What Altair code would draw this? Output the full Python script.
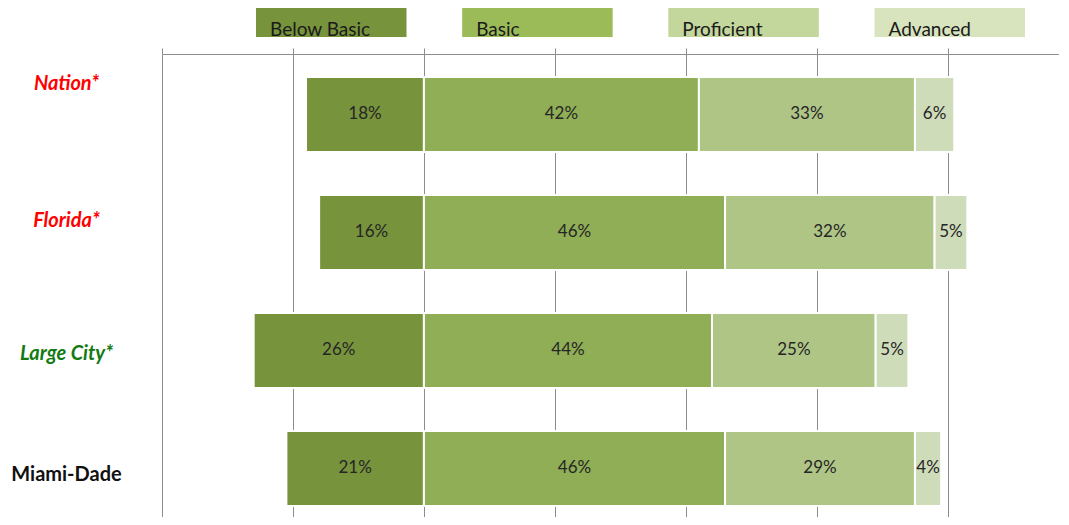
import altair as alt
import pandas as pd

groups = ["Nation*", "Florida*", "Large City*", "Miami-Dade"]
levels = ["Below Basic", "Basic", "Proficient", "Advanced"]
below_basic = [18, 16, 26, 21]
basic = [42, 46, 44, 46]
proficient = [33, 32, 25, 29]
advanced = [6, 5, 5, 4]

bar_colors = ["#77933C", "#8FAE55", "#AFC586", "#CFDCBA"]
legend_colors = ["#77933C", "#9BBB59", "#C3D69B", "#D7E4BD"]

rows = []
for i, g in enumerate(groups):
    b, ba, p, a = below_basic[i], basic[i], proficient[i], advanced[i]
    rows.append(dict(group=g, level="Below Basic", start=-b, end=0, value=b))
    rows.append(dict(group=g, level="Basic", start=0, end=ba, value=ba))
    rows.append(dict(group=g, level="Proficient", start=ba, end=ba + p, value=p))
    rows.append(dict(group=g, level="Advanced", start=ba + p, end=ba + p + a, value=a))
df = pd.DataFrame(rows)
df["label"] = df["value"].astype(str) + "%"
df["mid"] = (df["start"] + df["end"]) / 2

legend_df = pd.DataFrame({"level": levels})

xscale = alt.Scale(domain=[-40, 97], nice=False, zero=False)
yscale = alt.Scale(domain=groups, paddingInner=0.364, paddingOuter=0.144, align=0.676)
color_scale = alt.Scale(domain=levels, range=bar_colors)

label_color_expr = ("datum.value == 'Nation*' || datum.value == 'Florida*' ? '#FF0000' : "
                    "datum.value == 'Large City*' ? '#127A12' : '#111111'")
label_style_expr = "datum.value == 'Miami-Dade' ? 'normal' : 'italic'"
label_offset_expr = ("datum.value == 'Nation*' ? -30 : datum.value == 'Florida*' ? -11 : "
                     "datum.value == 'Large City*' ? 4 : 7")

base = alt.Chart(df)

bars = base.mark_bar(stroke="white", strokeWidth=2).encode(
    x=alt.X("start:Q", scale=xscale,
            axis=alt.Axis(orient="top", values=[-40, -20, 0, 20, 40, 60, 80], labels=False,
                          tickSize=6, tickColor="#8c8c8c", domainColor="#8c8c8c",
                          grid=True, gridColor="#8c8c8c", gridWidth=1, title=None)),
    x2="end:Q",
    y=alt.Y("group:N", scale=yscale, sort=groups,
            axis=alt.Axis(title=None, ticks=False, domain=False, labelAlign="center",
                          labelPadding=96, labelFont="Lato", labelFontSize=20,
                          labelFontWeight="bold",
                          labelColor={"expr": label_color_expr},
                          labelFontStyle={"expr": label_style_expr},
                          labelOffset={"expr": label_offset_expr})),
    color=alt.Color("level:N", scale=color_scale, legend=None),
)

texts = base.mark_text(font="Lato", fontSize=17, color="#262626", baseline="middle").encode(
    x=alt.X("mid:Q", scale=xscale),
    y=alt.Y("group:N", scale=yscale, sort=groups),
    text="label:N",
)

legend_scale = alt.Scale(domain=levels, range=[94, 863], paddingInner=0.27, paddingOuter=0)

legend_boxes = alt.Chart(legend_df).mark_bar().encode(
    x=alt.X("level:N", sort=levels, axis=None, scale=legend_scale),
    y=alt.value(-46),
    y2=alt.value(-17),
    color=alt.Color("level:N", scale=alt.Scale(domain=levels, range=legend_colors), legend=None),
)

legend_text = alt.Chart(legend_df).mark_text(font="Lato", fontSize=19, color="#1a1a1a",
                                             align="left", baseline="alphabetic", dx=14).encode(
    x=alt.X("level:N", sort=levels, axis=None, bandPosition=0, scale=legend_scale),
    y=alt.value(-18),
    text="level:N",
)

main = alt.layer(bars, texts)
legend = alt.layer(legend_boxes, legend_text).resolve_scale(color="independent")

chart = alt.layer(main, legend).resolve_scale(x="independent", color="independent").properties(
    width=897, height=463,
    autosize=alt.AutoSizeParams(type="none"),
    padding={"left": 154, "top": 46, "right": 0, "bottom": 0},
).configure_view(strokeWidth=0).configure(background="white")

chart.save("out.html", embed_options={"renderer": "svg", "actions": False})
